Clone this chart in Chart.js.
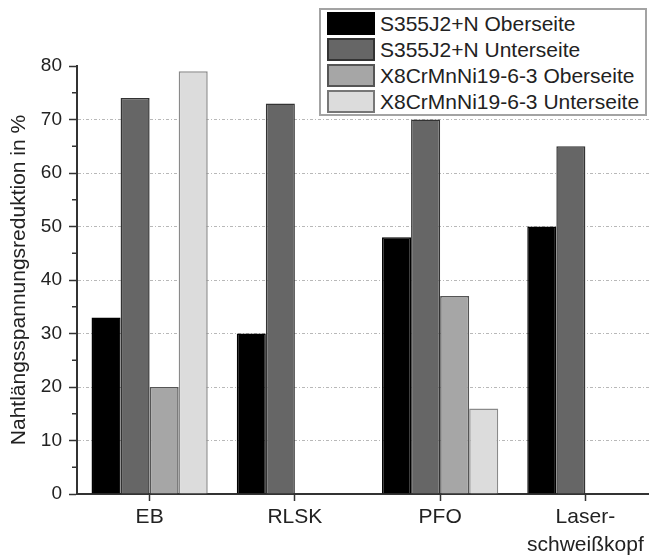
<!DOCTYPE html>
<html>
<head>
<meta charset="utf-8">
<script src="https://cdn.jsdelivr.net/npm/chart.js@4/dist/chart.umd.min.js"></script>
<style>
    html, body { margin: 0; padding: 0; background: #fff; overflow: hidden; }
    #wrap { position: absolute; left: 0; top: 0; width: 658px; height: 555px; }
    #legend {
        position: absolute; left: 319px; top: 8px; width: 328px; height: 108px;
        box-sizing: border-box; border: 2px solid #a3a3a3; background: #fff;
        font-family: "Liberation Sans", Arial, sans-serif; font-size: 21px; color: #222;
    }
    .row { position: absolute; left: 6px; height: 23px; }
    .sw { position: absolute; left: 0; top: 0; width: 48px; height: 23px; box-sizing: border-box; border: 2px solid #333; }
    .lbl { position: absolute; left: 53px; top: 0; line-height: 23px; white-space: nowrap; }
</style>
</head>
<body>
<div id="wrap">
    <canvas id="chart" width="658" height="555"></canvas>
    <div id="legend"></div>
</div>
<script>
// --- Nahtlängsspannungsreduktion ---

const categories = ['EB', 'RLSK', 'PFO', ['Laser-', 'schweißkopf']];
const seriesNames = [
    'S355J2+N Oberseite',
    'S355J2+N Unterseite',
    'X8CrMnNi19-6-3 Oberseite',
    'X8CrMnNi19-6-3 Unterseite'
];
const s355Ober = [33, 30, 48, 50];
const s355Unter = [74, 73, 70, 65];
const x8Ober = [20, null, 37, null];
const x8Unter = [79, null, 16, null];

const fills = ['#000000', '#666666', '#a6a6a6', '#dcdcdc'];
const edges = ['#000000', '#333333', '#555555', '#8a8a8a'];
const series = [s355Ober, s355Unter, x8Ober, x8Unter];

const FONT = '"Liberation Sans", Arial, sans-serif';

// short minor ticks between the labelled ones
const minorTicks = {
    id: 'minorTicks',
    afterDraw(chart) {
        const y = chart.scales.y;
        const ctx = chart.ctx;
        ctx.save();
        ctx.strokeStyle = '#333';
        ctx.lineWidth = 1.5;
        for (let v = 5; v < 80; v += 10) {
            const py = y.getPixelForValue(v);
            ctx.beginPath();
            ctx.moveTo(y.right - 5, py);
            ctx.lineTo(y.right, py);
            ctx.stroke();
        }
        ctx.restore();
    }
};

const chart = new Chart(document.getElementById('chart'), {
    type: 'bar',
    data: {
        labels: categories,
        datasets: series.map((d, i) => ({
            label: seriesNames[i],
            data: d,
            backgroundColor: fills[i],
            borderColor: edges[i],
            borderWidth: 1.5,
            categoryPercentage: 0.8,
            barPercentage: 1.0
        }))
    },
    options: {
        responsive: false,
        animation: false,
        layout: { padding: { top: 66, right: 0, left: 0, bottom: 0 } },
        plugins: {
            legend: { display: false },
            tooltip: { enabled: false }
        },
        scales: {
            x: {
                grid: {
                    offset: false,
                    drawOnChartArea: false,
                    drawTicks: true,
                    tickLength: 7,
                    tickColor: '#333',
                    tickWidth: 1.5
                },
                border: { color: '#333', width: 2 },
                ticks: {
                    color: '#222',
                    font: { family: FONT, size: 21, lineHeight: 1.3 },
                    padding: 3,
                    maxRotation: 0
                },
                afterFit(scale) { scale.height = 61; }
            },
            y: {
                min: 0,
                max: 80,
                grid: {
                    color: ctx => (ctx.tick && (ctx.tick.value === 0 || ctx.tick.value === 80)) ? 'rgba(0,0,0,0)' : '#b8b8b8',
                    lineWidth: 1,
                    tickLength: 8,
                    tickColor: '#333',
                    tickWidth: 1.5,
                    tickBorderDash: []
                },
                border: { color: '#333', width: 2, dash: [3, 2, 1, 2] },
                ticks: {
                    stepSize: 10,
                    color: '#222',
                    font: { family: FONT, size: 19 },
                    padding: 7
                },
                title: {
                    display: true,
                    text: 'Nahtlängsspannungsreduktion in %',
                    color: '#222',
                    font: { family: FONT, size: 21 },
                    padding: { top: 7, bottom: 0 }
                },
                afterFit(scale) { scale.width = 77; }
            }
        }
    },
    plugins: [minorTicks]
});

// legend box in the top right corner
const legendEl = document.getElementById('legend');
seriesNames.forEach((name, i) => {
    const row = document.createElement('div');
    row.className = 'row';
    row.style.top = (2 + i * 26) + 'px';
    row.innerHTML = `<div class="sw" style="background:${fills[i]};border-color:${edges[i] === '#8a8a8a' ? '#777' : edges[i]}"></div><div class="lbl">${name}</div>`;
    legendEl.appendChild(row);
});
</script>
</body>
</html>
